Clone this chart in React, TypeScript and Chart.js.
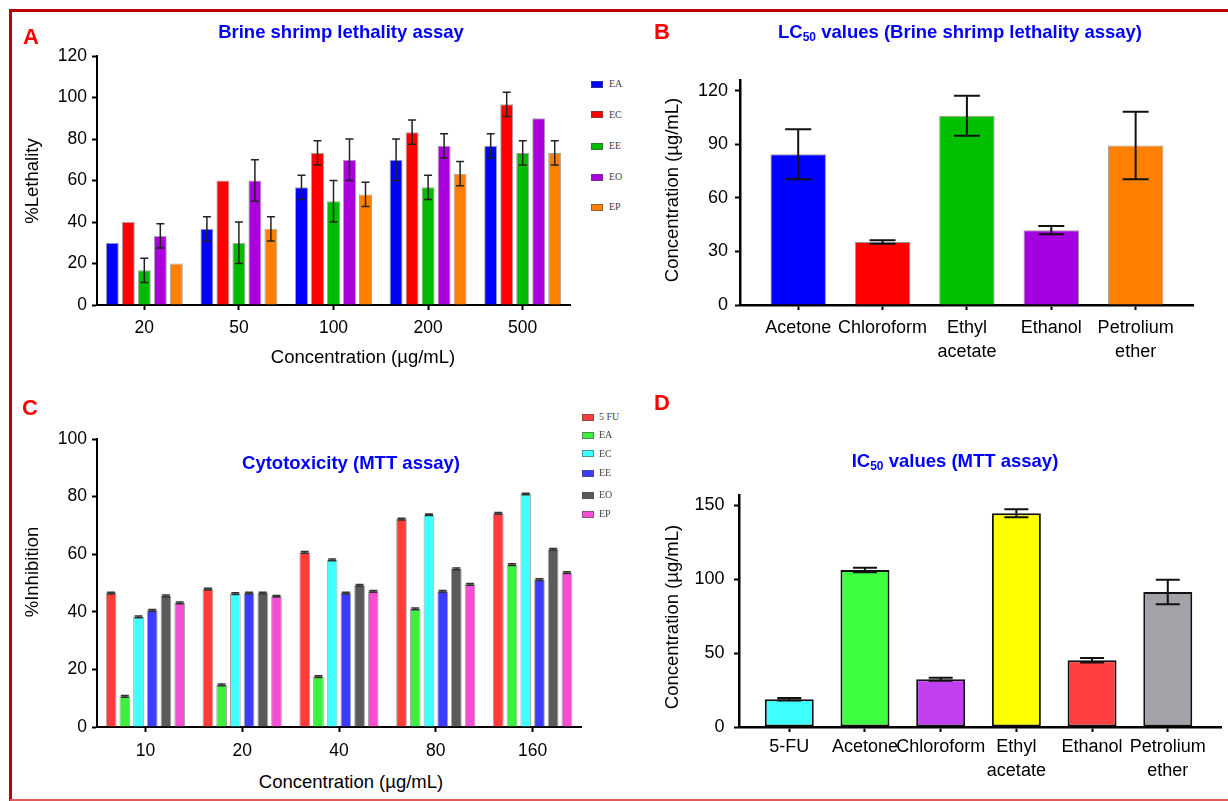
import React, { useEffect, useRef } from 'react';
import { Chart, registerables } from 'chart.js';
Chart.register(...registerables);

const FONT = '"Liberation Sans", Arial, Helvetica, sans-serif';
const SERIF = '"Liberation Serif", "Times New Roman", serif';

// ---------- Panel A : Brine shrimp lethality ----------
const A_CATEGORIES = ['20', '50', '100', '200', '500'];
const A_SERIES = ['EA', 'EC', 'EE', 'EO', 'EP'];
const A_EA = [30, 36.7, 56.7, 70, 76.7];
const A_EC = [40, 60, 73.3, 83.3, 96.7];
const A_EE = [16.7, 30, 50, 56.7, 73.3];
const A_EO = [33.3, 60, 70, 76.7, 90];
const A_EP = [20, 36.7, 53.3, 63.3, 73.3];
const A_EA_ERR = [0, 5.8, 5.8, 10, 5.8];
const A_EC_ERR = [0, 0, 5.8, 5.8, 5.8];
const A_EE_ERR = [5.8, 10, 10, 5.8, 5.8];
const A_EO_ERR = [5.8, 10, 10, 5.8, 0];
const A_EP_ERR = [0, 5.8, 5.8, 5.8, 5.8];
const A_COLORS = ['#0000ff', '#ff0000', '#00bb00', '#aa00dd', '#ff8000'];
const A_Y_TICKS = [0, 20, 40, 60, 80, 100, 120];

// ---------- Panel B : LC50 ----------
const B_CATEGORIES: (string | string[])[] = ['Acetone', 'Chloroform', ['Ethyl', 'acetate'], 'Ethanol', ['Petrolium', 'ether']];
const B_VALUES = [84.4, 35.3, 106, 41.9, 89.3];
const B_ERR = [14, 1, 11.2, 2.3, 18.9];
const B_COLORS = ['#0000ff', '#ff0000', '#00c000', '#a400e0', '#ff8000'];
const B_Y_TICKS = [0, 30, 60, 90, 120];

// ---------- Panel C : Cytotoxicity ----------
const C_CATEGORIES = ['10', '20', '40', '80', '160'];
const C_SERIES = ['5 FU', 'EA', 'EC', 'EE', 'EO', 'EP'];
const C_5FU = [46.5, 47.9, 60.6, 72.2, 74.2];
const C_EA = [10.6, 14.6, 17.5, 41, 56.4];
const C_EC = [38.2, 46.3, 58, 73.7, 80.9];
const C_EE = [40.5, 46.5, 46.5, 47.1, 51.2];
const C_EO = [45.5, 46.5, 49.2, 54.9, 61.7];
const C_EP = [43.1, 45.4, 47.1, 49.5, 53.6];
const C_ERR = [0.3, 0.3, 0.3, 0.3, 0.3];
const C_COLORS = ['#ff3c3c', '#3ef03e', '#40ffff', '#3c3cff', '#5a5a5a', '#f24fd2'];
const C_Y_TICKS = [0, 20, 40, 60, 80, 100];

// ---------- Panel D : IC50 ----------
const D_CATEGORIES: (string | string[])[] = ['5-FU', 'Acetone', 'Chloroform', ['Ethyl', 'acetate'], 'Ethanol', ['Petrolium', 'ether']];
const D_VALUES = [18.8, 106.2, 32.3, 144.7, 45.2, 91.3];
const D_ERR = [0.8, 1.5, 1, 2.7, 1.5, 8.3];
const D_COLORS = ['#40ffff', '#40ff40', '#c040f0', '#ffff00', '#ff4040', '#a2a2a8'];
const D_Y_TICKS = [0, 50, 100, 150];

type Frame = { left: number; top: number; right: number; bottom: number; yW: number; xH: number; padT: number; padR: number; padL: number; padB: number };

function canvasBox(f: Frame) {
  return {
    left: f.left - f.yW - f.padL,
    top: f.top - f.padT,
    width: f.right - f.left + f.yW + f.padL + f.padR,
    height: f.bottom - f.top + f.padT + f.xH + f.padB,
  };
}

const errorBarPlugin: any = {
  id: 'errorBars',
  afterDatasetsDraw(chart: any, _args: any, opts: any) {
    const { ctx } = chart;
    const yScale = chart.scales.y;
    ctx.save();
    ctx.strokeStyle = opts.color || '#000';
    ctx.lineWidth = opts.width || 1.5;
    const cw = opts.cap || 8;
    chart.data.datasets.forEach((ds: any, di: number) => {
      const errs = ds.errors;
      if (!errs) return;
      const meta = chart.getDatasetMeta(di);
      meta.data.forEach((bar: any, i: number) => {
        const e = errs[i];
        if (!e) return;
        const raw = ds.data[i];
        const v = typeof raw === 'number' ? raw : raw.y;
        const x = bar.x;
        const yT = yScale.getPixelForValue(v + e);
        const yB = yScale.getPixelForValue(v - e);
        ctx.beginPath();
        ctx.moveTo(x, yT);
        ctx.lineTo(x, yB);
        ctx.moveTo(x - cw / 2, yT);
        ctx.lineTo(x + cw / 2, yT);
        ctx.moveTo(x - cw / 2, yB);
        ctx.lineTo(x + cw / 2, yB);
        ctx.stroke();
      });
    });
    ctx.restore();
  },
};

const fixY = (w: number) => (s: any) => {
  s.width = w;
  s.paddingTop = 0; s.paddingBottom = 0; s.paddingLeft = 0; s.paddingRight = 0;
};
const fixX = (h: number) => (s: any) => {
  s.height = h;
  s.paddingTop = 0; s.paddingBottom = 0; s.paddingLeft = 0; s.paddingRight = 0;
};

function axisCommon(lineW: number, tickLen: number) {
  return {
    z: 1,
    grid: { display: true, drawOnChartArea: false, drawTicks: true, tickLength: tickLen, tickWidth: 2, tickColor: '#000', offset: false },
    border: { display: true, color: '#000', width: lineW },
  };
}

function baseOptions(f: Frame, x: any, y: any, err: any) {
  return {
    responsive: false,
    maintainAspectRatio: false,
    animation: false,
    devicePixelRatio: 1,
    events: [],
    layout: { padding: { left: f.padL, top: f.padT, right: f.padR, bottom: f.padB } },
    plugins: { legend: { display: false }, tooltip: { enabled: false }, title: { display: false }, errorBars: err },
    scales: { x, y },
  };
}

function groupedConfig(f: Frame, cats: string[], names: string[], vals: number[][], errs: number[][], colors: string[], yTicks: number[], yMax: number, o: any) {
  return {
    type: 'bar',
    data: {
      labels: cats,
      datasets: names.map((n, i) => ({
        label: n,
        data: vals[i],
        errors: errs[i],
        backgroundColor: colors[i],
        borderColor: 'rgba(90,90,90,0.55)',
        borderWidth: 1,
        categoryPercentage: o.catPct,
        barPercentage: o.barPct,
      })),
    },
    options: baseOptions(
      f,
      {
        type: 'category',
        offset: true,
        ...axisCommon(2, 5),
        ticks: { color: '#000', font: { family: FONT, size: o.tickSize }, padding: o.xPad, autoSkip: false, maxRotation: 0, minRotation: 0 },
        afterFit: fixX(f.xH),
      },
      {
        type: 'linear',
        min: 0,
        max: yMax,
        ...axisCommon(2, 5),
        afterBuildTicks: (s: any) => { s.ticks = yTicks.map((v) => ({ value: v })); },
        ticks: { color: '#000', font: { family: FONT, size: o.tickSize }, padding: o.yPad },
        afterFit: fixY(f.yW),
      },
      o.err
    ),
    plugins: [errorBarPlugin],
  };
}

function singleConfig(f: Frame, cats: (string | string[])[], vals: number[], errs: number[], colors: string[], yTicks: number[], yMax: number, o: any) {
  return {
    type: 'bar',
    data: {
      datasets: [
        {
          data: vals.map((v, i) => ({ x: i, y: v })),
          errors: errs,
          backgroundColor: colors,
          borderColor: o.borderColor,
          borderWidth: o.borderWidth,
          borderSkipped: o.borderSkipped,
          categoryPercentage: 1,
          barPercentage: o.barPct,
        },
      ],
    },
    options: baseOptions(
      f,
      {
        type: 'linear',
        offset: false,
        min: o.xMin,
        max: o.xMax,
        ...axisCommon(2.5, 5),
        afterBuildTicks: (s: any) => { s.ticks = cats.map((_, i) => ({ value: i })); },
        ticks: {
          color: '#000',
          font: { family: FONT, size: 18, lineHeight: 1.333 },
          padding: o.xPad,
          autoSkip: false,
          maxRotation: 0,
          minRotation: 0,
          callback: (v: any) => cats[Math.round(v)] ?? '',
        },
        afterFit: fixX(f.xH),
      },
      {
        type: 'linear',
        min: 0,
        max: yMax,
        ...axisCommon(2.5, 5),
        afterBuildTicks: (s: any) => { s.ticks = yTicks.map((v) => ({ value: v })); },
        ticks: { color: '#000', font: { family: FONT, size: 18 }, padding: o.yPad },
        afterFit: fixY(f.yW),
      },
      o.err
    ),
    plugins: [errorBarPlugin],
  };
}

function ChartCanvas({ frame, build }: { frame: Frame; build: (f: Frame) => any }) {
  const ref = useRef<HTMLCanvasElement>(null);
  const box = canvasBox(frame);
  useEffect(() => {
    const chart = new Chart(ref.current as HTMLCanvasElement, build(frame));
    return () => chart.destroy();
  }, []);
  return (
    <canvas
      ref={ref}
      width={box.width}
      height={box.height}
      style={{ position: 'absolute', left: box.left, top: box.top, width: box.width, height: box.height }}
    />
  );
}

function Txt({ x, y, size, bold, color, rotate, family, children }: any) {
  return (
    <div
      style={{
        position: 'absolute',
        left: x,
        top: y,
        transform: `translate(-50%, -50%)${rotate ? ' rotate(-90deg)' : ''}`,
        fontSize: size,
        fontWeight: bold ? 'bold' : 'normal',
        color: color || '#000',
        whiteSpace: 'nowrap',
        lineHeight: 1,
        fontFamily: family || FONT,
      }}
    >
      {children}
    </div>
  );
}

function Legend({ names, colors, x, ys, textX }: any) {
  return (
    <>
      {names.map((n: string, i: number) => (
        <React.Fragment key={n}>
          <div
            style={{
              position: 'absolute', left: x, top: ys[i] - 3.5, width: 12, height: 7, boxSizing: 'border-box',
              background: colors[i], border: '1px solid rgba(80,80,80,0.6)',
            }}
          />
          <div
            style={{
              position: 'absolute', left: textX, top: ys[i], transform: 'translateY(-50%)', fontFamily: SERIF,
              fontSize: 10, color: '#444', lineHeight: 1, whiteSpace: 'nowrap',
            }}
          >
            {n}
          </div>
        </React.Fragment>
      ))}
    </>
  );
}

const FRAME_A: Frame = { left: 97, right: 570, top: 56, bottom: 305, yW: 60, xH: 45, padT: 12, padR: 14, padL: 0, padB: 0 };
const FRAME_B: Frame = { left: 740, right: 1193, top: 80, bottom: 305, yW: 60, xH: 62, padT: 12, padR: 12, padL: 0, padB: 0 };
const FRAME_C: Frame = { left: 97, right: 581, top: 439, bottom: 727, yW: 60, xH: 40, padT: 12, padR: 12, padL: 0, padB: 0 };
const FRAME_D: Frame = { left: 739, right: 1221, top: 495, bottom: 727, yW: 60, xH: 62, padT: 12, padR: 6, padL: 0, padB: 0 };

const buildA = (f: Frame) =>
  groupedConfig(f, A_CATEGORIES, A_SERIES, [A_EA, A_EC, A_EE, A_EO, A_EP], [A_EA_ERR, A_EC_ERR, A_EE_ERR, A_EO_ERR, A_EP_ERR], A_COLORS, A_Y_TICKS, 120, {
    catPct: 0.846, barPct: 0.81, tickSize: 17.5, xPad: 7.5, yPad: 5, err: { color: '#222', width: 1.5, cap: 8 },
  });
const buildC = (f: Frame) =>
  groupedConfig(f, C_CATEGORIES, C_SERIES, [C_5FU, C_EA, C_EC, C_EE, C_EO, C_EP], [C_ERR, C_ERR, C_ERR, C_ERR, C_ERR, C_ERR], C_COLORS, C_Y_TICKS, 100, {
    catPct: 0.85, barPct: 0.78, tickSize: 17.5, xPad: 9, yPad: 5, err: { color: '#333', width: 1.5, cap: 8 },
  });
const buildB = (f: Frame) =>
  singleConfig(f, B_CATEGORIES, B_VALUES, B_ERR, B_COLORS, B_Y_TICKS, 126, {
    xMin: -0.69, xMax: 4.68, barPct: 0.658, borderColor: 'rgba(90,90,90,0.6)', borderWidth: 1, borderSkipped: 'start',
    xPad: 6, yPad: 7, err: { color: '#111', width: 2, cap: 26 },
  });
const buildD = (f: Frame) =>
  singleConfig(f, D_CATEGORIES, D_VALUES, D_ERR, D_COLORS, D_Y_TICKS, 157, {
    xMin: -0.664, xMax: 5.703, barPct: 0.647, borderColor: '#111', borderWidth: 2, borderSkipped: false,
    xPad: 2.7, yPad: 9.5, err: { color: '#111', width: 2, cap: 24 },
  });

const BLUE = '#0000ff';
const RED = '#ff0000';

export default function App() {
  return (
    <div style={{ position: 'absolute', left: 0, top: 0, width: 1228, height: 801, overflow: 'hidden', background: '#fff', fontFamily: FONT }}>
      {/* frame */}
      <div style={{ position: 'absolute', left: 9, top: 9, width: 1219, height: 3, background: '#c00000' }} />
      <div style={{ position: 'absolute', left: 9, top: 9, width: 3, height: 792, background: '#c00000' }} />
      <div style={{ position: 'absolute', left: 10, top: 799, width: 1218, height: 2, background: '#e05a5a' }} />

      <ChartCanvas frame={FRAME_A} build={buildA} />
      <ChartCanvas frame={FRAME_B} build={buildB} />
      <ChartCanvas frame={FRAME_C} build={buildC} />
      <ChartCanvas frame={FRAME_D} build={buildD} />

      {/* Panel A */}
      <Txt x={31} y={37} size={22} bold color={RED}>A</Txt>
      <Txt x={341} y={32} size={18.5} bold color={BLUE}>Brine shrimp lethality assay</Txt>
      <Txt x={32} y={181} size={18.5} rotate>%Lethality</Txt>
      <Txt x={363} y={357} size={18.5}>Concentration (µg/mL)</Txt>
      <Legend names={A_SERIES} colors={A_COLORS} x={591} ys={[84, 114.5, 146, 177, 207]} textX={609} />

      {/* Panel B */}
      <Txt x={662} y={32} size={22} bold color={RED}>B</Txt>
      <Txt x={960} y={32} size={18.5} bold color={BLUE}>
        LC<span style={{ fontSize: 12, position: 'relative', top: 3 }}>50</span> values (Brine shrimp lethality assay)
      </Txt>
      <Txt x={672} y={190} size={18.5} rotate>Concentration (µg/mL)</Txt>

      {/* Panel C */}
      <Txt x={30} y={408} size={22} bold color={RED}>C</Txt>
      <Txt x={351} y={463} size={18.5} bold color={BLUE}>Cytotoxicity (MTT assay)</Txt>
      <Txt x={32} y={572} size={18.5} rotate>%Inhibition</Txt>
      <Txt x={351} y={782} size={18.5}>Concentration (µg/mL)</Txt>
      <Legend names={C_SERIES} colors={C_COLORS} x={582} ys={[417, 435, 453.5, 473, 495, 514]} textX={599} />

      {/* Panel D */}
      <Txt x={662} y={403} size={22} bold color={RED}>D</Txt>
      <Txt x={955} y={461} size={18.5} bold color={BLUE}>
        IC<span style={{ fontSize: 12, position: 'relative', top: 3 }}>50</span> values (MTT assay)
      </Txt>
      <Txt x={672} y={617} size={18.5} rotate>Concentration (µg/mL)</Txt>
    </div>
  );
}
